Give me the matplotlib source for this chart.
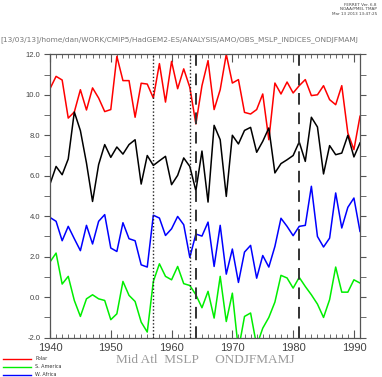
import matplotlib
matplotlib.use("Agg")
import matplotlib.pyplot as plt

years = list(range(1940, 1992))
polar = [10.30, 10.91, 10.73, 8.85, 9.15, 10.25, 9.25, 10.34, 9.84, 9.17,
         9.27, 11.90, 10.70, 10.70, 8.89, 10.57, 10.53, 9.84, 11.54, 9.64,
         11.65, 10.30, 11.28, 10.37, 8.56, 10.45, 11.69, 9.27, 10.25, 12.00,
         10.58, 10.75, 9.13, 9.05, 9.27, 10.04, 7.78, 10.58, 10.04, 10.63,
         10.09, 10.45, 10.75, 9.96, 10.00, 10.45, 9.76, 9.51, 10.45, 8.11,
         7.29, 8.94]
black = [5.59, 6.46, 6.05, 6.83, 9.15, 8.23, 6.63, 4.73, 6.55, 7.54,
         6.91, 7.42, 7.07, 7.54, 7.78, 5.59, 7.00, 6.51, 6.74, 6.96,
         5.56, 6.02, 6.88, 6.46, 5.26, 7.22, 4.70, 8.49, 7.78, 4.98,
         8.00, 7.57, 8.24, 8.39, 7.16, 7.70, 8.36, 6.14, 6.60, 6.79,
         7.00, 7.67, 6.71, 8.89, 8.41, 6.09, 7.49, 7.04, 7.12, 8.00,
         6.93, 7.62]
w_africa = [3.94, 3.75, 2.79, 3.50, 2.89, 2.30, 3.55, 2.63, 3.75, 4.08,
            2.43, 2.26, 3.68, 2.89, 2.79, 1.60, 1.49, 4.05, 3.91, 3.05,
            3.38, 3.99, 3.58, 1.97, 3.12, 3.02, 3.71, 1.52, 3.55, 1.14,
            2.38, 0.73, 2.23, 2.56, 0.94, 2.06, 1.49, 2.51, 3.90, 3.50,
            3.04, 3.50, 3.55, 5.48, 3.00, 2.48, 2.92, 5.15, 3.42, 4.44,
            4.90, 3.25]
s_america = [1.74, 2.18, 0.65, 1.03, -0.16, -0.95, -0.08, 0.12, -0.08, -0.16,
             -1.11, -0.82, 0.78, 0.09, -0.21, -1.23, -1.72, 0.78, 1.65, 1.03,
             0.86, 1.52, 0.67, 0.58, 0.12, -0.52, 0.29, -1.03, 1.03, -1.20,
             0.20, -2.60, -0.95, -0.78, -2.40, -1.53, -1.00, -0.24, 1.08, 0.95,
             0.45, 0.98, 0.53, 0.12, -0.34, -1.00, -0.12, 1.49, 0.25, 0.25,
             0.86, 0.70]
dotted_years = [1957, 1963]
dashed_years = [1964, 1981]
xtick_vals = [1940, 1950, 1960, 1970, 1980, 1990]
ytick_vals = [-2.0, 0.0, 2.0, 4.0, 6.0, 8.0, 10.0, 12.0]
ytick_labels = ["-2.0", "0.0", "2.0", "4.0", "6.0", "8.0", "10.0", "12.0"]

W, H = 382, 377
fig = plt.figure(figsize=(W / 100, H / 100), dpi=100)
ax = fig.add_axes([50 / W, 1 - 337.7 / H, 310 / W, (337.7 - 54.3) / H])

ax.plot(years, polar, color="#ff0000", lw=1.1, label="Polar", clip_on=True)
ax.plot(years, black, color="#000000", lw=1.1)
ax.plot(years, w_africa, color="#0000ff", lw=1.1, label="W. Africa")
ax.plot(years, s_america, color="#00ee00", lw=1.1, label="S. America")

for yv in dotted_years:
    ax.axvline(yv, color="#222222", lw=1.0, linestyle=(0, (1, 1.5)))
for yv in dashed_years:
    ax.axvline(yv, color="#333333", lw=1.4, linestyle=(0, (6, 4)))

ax.set_xlim(1940, 1991)
ax.set_ylim(-2, 12)
ax.set_xticks(xtick_vals)
ax.set_xticks(range(1940, 1992), minor=True)
ax.set_yticks(ytick_vals)
ax.set_yticklabels(ytick_labels)
ax.set_yticks(range(-2, 13), minor=True)

grey = "#555555"
for s in ax.spines.values():
    s.set_color(grey)
    s.set_linewidth(0.9)
ax.tick_params(axis="x", which="both", direction="in", top=True, bottom=True,
               colors=grey, labelcolor="#444444", labelsize=8)
ax.tick_params(axis="x", which="major", length=6, pad=4)
ax.tick_params(axis="x", which="minor", length=3)
ax.tick_params(axis="y", which="both", direction="out", left=True, right=True,
               length=4, colors=grey, labelcolor="#444444", labelsize=5.5, pad=3)
for lab in ax.get_xticklabels():
    lab.set_family("Liberation Sans")
for lab in ax.get_yticklabels():
    lab.set_family("Liberation Sans")

fig.text(0.0, 1 - 40 / H, "[13/03/13]/home/dan/WORK/CMIP5/HadGEM2-ES/ANALYSIS/AMO/OBS_MSLP_INDICES_ONDJFMAMJ",
         fontsize=5.3, color="#777777", ha="left", va="center", family="DejaVu Sans")
fig.text(377 / W, 1 - 3 / H, "FERRET Ver. 6.8\nNOAA/PMEL TMAP\nMar 13 2013 13:47:25",
         fontsize=3.0, color="#444444", ha="right", va="top", linespacing=1.1)
fig.text(205 / W, 1 - 360 / H, "Mid Atl  MSLP     ONDJFMAMJ", fontsize=9.5,
         color="#999999", ha="center", va="center", family="Liberation Serif")

leg_items = [("Polar", "#ff0000", 358.7), ("S. America", "#00ee00", 367),
             ("W. Africa", "#0000ff", 374.5)]
for name, col, ypix in leg_items:
    yf = 1 - ypix / H
    fig.add_artist(plt.Line2D([3 / W, 31 / W], [yf, yf], color=col, lw=1.0,
                              transform=fig.transFigure))
    fig.text(35 / W, yf, name, fontsize=3.5, color="#333333", va="center", ha="left")

fig.savefig("out.png", dpi=100)
